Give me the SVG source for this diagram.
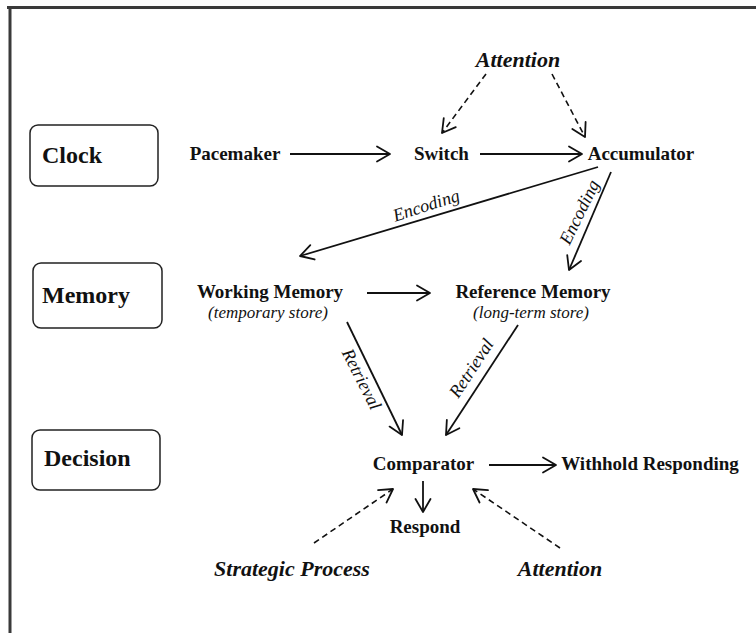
<svg xmlns="http://www.w3.org/2000/svg" width="756" height="633" viewBox="0 0 756 633">
<defs>
<marker id="ah" markerUnits="userSpaceOnUse" markerWidth="20" markerHeight="20" refX="15" refY="10" orient="auto" viewBox="0 0 20 20">
<path d="M2,2.5 L15,10 L2,17.5" fill="none" stroke="#111" stroke-width="1.8" stroke-linecap="round" stroke-linejoin="round"/>
</marker>
<style>
.b{font-family:"Liberation Serif","Times New Roman",serif;font-weight:bold;font-size:19px;fill:#111;text-anchor:middle}
.big{font-size:24px;text-anchor:start}
.bi{font-family:"Liberation Serif","Times New Roman",serif;font-weight:bold;font-style:italic;font-size:22px;fill:#111;text-anchor:middle}
.i{font-family:"Liberation Serif","Times New Roman",serif;font-style:italic;font-size:17px;fill:#111;text-anchor:middle}
.lbl{font-family:"Liberation Serif","Times New Roman",serif;font-style:italic;font-size:18px;fill:#111;text-anchor:middle}
.box{fill:#fff;stroke:#222;stroke-width:1.5}
.s{fill:none;stroke:#111;stroke-width:1.8;marker-end:url(#ah)}
.d{fill:none;stroke:#111;stroke-width:1.6;stroke-dasharray:6,4;marker-end:url(#ah)}
</style>
</defs>
<rect width="756" height="633" fill="#fff"/>
<g id="frame">
<line x1="7" y1="7.5" x2="756" y2="7.5" stroke="#3a3a3a" stroke-width="3"/>
<line x1="10" y1="6" x2="10" y2="633" stroke="#3a3a3a" stroke-width="3"/>
</g>
<g id="clock"><rect class="box" x="30" y="125" width="128" height="61" rx="8"/><text class="b big" x="42" y="163">Clock</text></g>
<g id="memory"><rect class="box" x="33" y="263" width="129" height="65" rx="8"/><text class="b big" x="42" y="303">Memory</text></g>
<g id="decision"><rect class="box" x="32" y="430" width="128" height="60" rx="8"/><text class="b big" x="44" y="466">Decision</text></g>
<g id="attention-top"><text class="bi" x="518" y="67">Attention</text></g>
<g id="pacemaker"><text class="b" x="235" y="160">Pacemaker</text></g>
<g id="switch"><text class="b" x="441.5" y="160">Switch</text></g>
<g id="accumulator"><text class="b" x="641" y="160">Accumulator</text></g>
<g id="working-memory"><text class="b" x="270" y="298">Working Memory</text><text class="i" x="268" y="318">(temporary store)</text></g>
<g id="reference-memory"><text class="b" x="533" y="298">Reference Memory</text><text class="i" x="531" y="318">(long-term store)</text></g>
<g id="comparator"><text class="b" x="423.5" y="470">Comparator</text></g>
<g id="withhold"><text class="b" x="650" y="470">Withhold Responding</text></g>
<g id="respond"><text class="b" x="425" y="533">Respond</text></g>
<g id="strategic"><text class="bi" x="292" y="576">Strategic Process</text></g>
<g id="attention-bottom"><text class="bi" x="560" y="576">Attention</text></g>
<g id="connectors">
<line class="d" x1="486" y1="74" x2="442" y2="133"/>
<line class="d" x1="552" y1="74" x2="585" y2="137"/>
<line class="s" x1="290" y1="154" x2="390" y2="154"/>
<line class="s" x1="480" y1="154" x2="582" y2="154"/>
<line class="s" x1="598" y1="167" x2="300" y2="256"/>
<line class="s" x1="611" y1="172" x2="569" y2="270"/>
<line class="s" x1="367" y1="293" x2="430" y2="293"/>
<line class="s" x1="347" y1="322" x2="402" y2="435"/>
<line class="s" x1="518" y1="325" x2="446" y2="435"/>
<line class="s" x1="489" y1="465" x2="556" y2="465"/>
<line class="s" x1="423" y1="481" x2="423" y2="512"/>
<line class="d" x1="314" y1="543" x2="393" y2="489"/>
<line class="d" x1="560" y1="548" x2="473" y2="489"/>
<text class="lbl" transform="translate(426,205) rotate(-18)" dy="0.35em">Encoding</text>
<text class="lbl" transform="translate(579,212) rotate(-64)" dy="0.35em">Encoding</text>
<text class="lbl" transform="translate(362,379) rotate(63)" dy="0.35em">Retrieval</text>
<text class="lbl" transform="translate(471,368) rotate(-57)" dy="0.35em">Retrieval</text>
</g>
</svg>
